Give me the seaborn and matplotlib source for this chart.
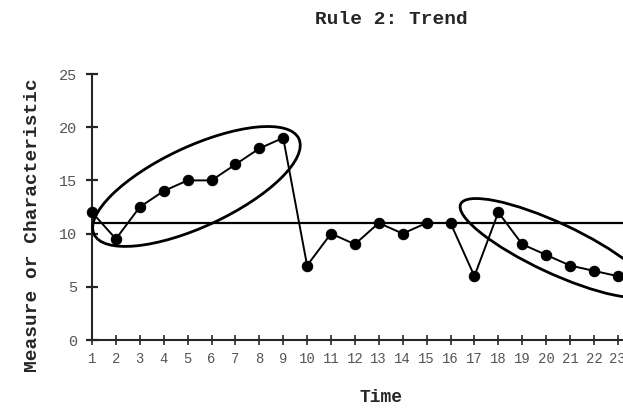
import matplotlib
matplotlib.use("Agg")
import numpy as np
import pandas as pd
import seaborn as sns
import matplotlib.pyplot as plt
from matplotlib.patches import Ellipse
from matplotlib.transforms import ScaledTranslation

# ---- data ----
time = list(range(1, 24))
measure = [12, 9.5, 12.5, 14, 15, 15, 16.5, 18, 19, 7, 10, 9, 11, 10, 11, 11,
           6, 12, 9, 8, 7, 6.5, 6]
center_line = 11
y_ticks = [0, 5, 10, 15, 20, 25]
title = "Rule 2: Trend"
x_label = "Time"
y_label = "Measure or Characteristic"
# highlight ellipses: centre in data units
trend_up_center = (5.37, 14.43)
trend_down_center = (20.37, 8.65)

sns.set_style("ticks")
plt.rcParams['font.family'] = ['Liberation Mono', 'DejaVu Sans']

W, H = 623, 409
fig = plt.figure(figsize=(W / 100, H / 100), dpi=100)
ax = fig.add_axes([92 / W, 1 - 340 / H, 1 - 92 / W, (340 - 74) / H])

df = pd.DataFrame({"Time": time, "Measure": measure})
sns.lineplot(data=df, x="Time", y="Measure", ax=ax, color="black",
             marker="o", markersize=7.5, markeredgecolor="black",
             markerfacecolor="black", linewidth=1.4, zorder=3)
for ln in ax.lines:
    ln.set_clip_on(False)
ax.axhline(center_line, color="black", lw=1.6, zorder=2, clip_on=False)

ax.set_xlim(1, 1 + (W - 92) / 23.9)
ax.set_ylim(0, 25)
ax.set_xticks(time)
ax.set_yticks(y_ticks)
ax.set_xlabel("")
ax.set_ylabel("")
sns.despine(ax=ax)
ax.spines['left'].set_linewidth(1.5)
ax.spines['bottom'].set_linewidth(1.5)
ax.spines['left'].set_bounds(0, 25)

ax.tick_params(axis='x', direction='inout', length=7, width=1.2, pad=5,
               labelsize=10, labelcolor='#555555')
ax.tick_params(axis='y', direction='inout', length=9, width=1.6, pad=6,
               labelsize=11, labelcolor='#555555')

# ellipses drawn in pixel space around data centres
def add_ellipse(center, w_px, h_px, angle):
    tr = fig.dpi_scale_trans + ScaledTranslation(center[0], center[1], ax.transData)
    e = Ellipse((0, 0), w_px / 100, h_px / 100, angle=angle, transform=tr,
                fill=False, edgecolor='black', lw=2.0, clip_on=False, zorder=4)
    fig.add_artist(e)

add_ellipse(trend_up_center, 226, 80, 25)
add_ellipse(trend_down_center, 208, 50, -25)

fig.text(391 / W, 1 - 20 / H, title, ha='center', va='center',
         fontsize=14, fontweight='bold')
fig.text(33 / W, 1 - 225 / H, y_label, ha='center', va='center',
         rotation=90, fontsize=14, fontweight='bold')
fig.text(381 / W, 1 - 397 / H, x_label, ha='center', va='center',
         fontsize=13, fontweight='bold')

fig.savefig("out.png", dpi=100)
